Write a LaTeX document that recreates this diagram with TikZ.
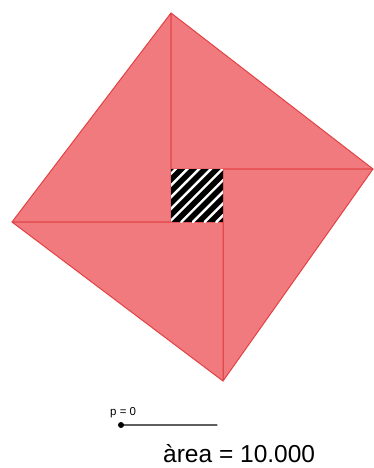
\documentclass[tikz,border=0pt]{standalone}
\usepackage{fontspec}
\setmainfont{Liberation Sans}
\usepackage{tikz}
\usetikzlibrary{calc}

\definecolor{rosa}{RGB}{241,122,127}
\definecolor{vora}{RGB}{226,66,68}
\definecolor{gris}{RGB}{95,95,95}

\begin{document}
\begin{tikzpicture}[x=1pt, y=-1pt, line cap=round, line join=round]
\useasboundingbox (0,0) rectangle (374,468);

% vertexs del quadrat gran
\coordinate (A) at (171,13);
\coordinate (B) at (373,169);
\coordinate (C) at (223,381);
\coordinate (D) at (12,222);

% vertexs del quadrat petit
\coordinate (Q1) at (171,169);
\coordinate (Q2) at (223,169);
\coordinate (Q3) at (223,222);
\coordinate (Q4) at (171,222);

% els quatre triangles
\foreach \p/\q/\r in {A/D/Q4, B/A/Q1, C/B/Q2, D/C/Q3}
  \draw[fill=rosa, draw=vora, line width=1pt] (\p) -- (\q) -- (\r) -- cycle;

% quadrat central ratllat
\fill[black] (Q1) rectangle (Q3);
\begin{scope}
  \clip (Q1) rectangle (Q3);
  \foreach \k in {-60,-48.3,...,60}
    \draw[white, line width=2.4pt] ($(Q4)+(\k,0)$) -- ++(60,-60);
\end{scope}

% lliscador
\coordinate (L1) at (121,425);
\coordinate (L2) at (217,425);
\draw[gris, line width=1.3pt] (L1) -- (L2);
\fill[black] (L1) circle (3pt);
\node[anchor=base west, inner sep=0pt, font=\fontsize{11.5}{13}\selectfont] (p) at (110,415) {p = 0};

% area
\node[anchor=base west, inner sep=0pt, font=\fontsize{24.5}{28}\selectfont] (area) at (163,462) {àrea = 10.000};
\end{tikzpicture}
\end{document}
